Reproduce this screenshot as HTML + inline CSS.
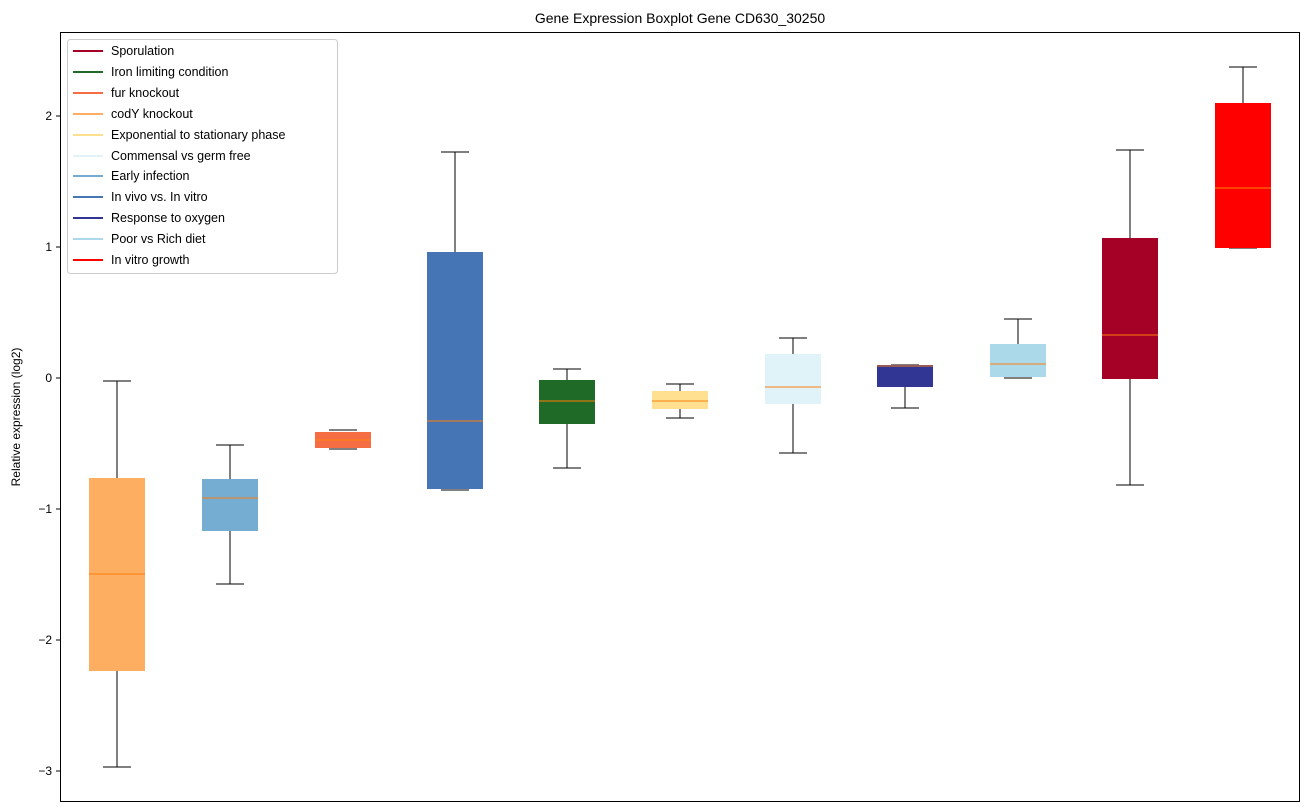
<!DOCTYPE html>
<html><head><meta charset="utf-8"><style>body{margin:0;background:#fff}svg{display:block;font-family:"Liberation Sans","DejaVu Sans",sans-serif}</style></head><body>
<svg width="1309" height="812" viewBox="0 0 1309 812">
<text x="680" y="23" font-size="14" text-anchor="middle">Gene Expression Boxplot Gene CD630_30250</text>
<g stroke="#000" stroke-width="1" fill="none">
<line x1="117" y1="381" x2="117" y2="478"/><line x1="117" y1="671" x2="117" y2="767"/><line x1="103" y1="381" x2="131" y2="381"/><line x1="103" y1="767" x2="131" y2="767"/>
<line x1="230" y1="445" x2="230" y2="479"/><line x1="230" y1="531" x2="230" y2="584"/><line x1="216" y1="445" x2="244" y2="445"/><line x1="216" y1="584" x2="244" y2="584"/>
<line x1="329" y1="430" x2="357" y2="430"/><line x1="329" y1="449" x2="357" y2="449"/>
<line x1="455" y1="152" x2="455" y2="252"/><line x1="441" y1="152" x2="469" y2="152"/><line x1="441" y1="490" x2="469" y2="490"/>
<line x1="567" y1="369" x2="567" y2="380"/><line x1="567" y1="424" x2="567" y2="468"/><line x1="553" y1="369" x2="581" y2="369"/><line x1="553" y1="468" x2="581" y2="468"/>
<line x1="680" y1="384" x2="680" y2="391"/><line x1="680" y1="409" x2="680" y2="418"/><line x1="666" y1="384" x2="694" y2="384"/><line x1="666" y1="418" x2="694" y2="418"/>
<line x1="793" y1="338" x2="793" y2="354"/><line x1="793" y1="404" x2="793" y2="453"/><line x1="779" y1="338" x2="807" y2="338"/><line x1="779" y1="453" x2="807" y2="453"/>
<line x1="905" y1="387" x2="905" y2="408"/><line x1="891" y1="365" x2="919" y2="365"/><line x1="891" y1="408" x2="919" y2="408"/>
<line x1="1018" y1="319" x2="1018" y2="344"/><line x1="1004" y1="319" x2="1032" y2="319"/><line x1="1004" y1="378" x2="1032" y2="378"/>
<line x1="1130" y1="150" x2="1130" y2="238"/><line x1="1130" y1="379" x2="1130" y2="485"/><line x1="1116" y1="150" x2="1144" y2="150"/><line x1="1116" y1="485" x2="1144" y2="485"/>
<line x1="1243" y1="67" x2="1243" y2="103"/><line x1="1229" y1="67" x2="1257" y2="67"/><line x1="1229" y1="248" x2="1257" y2="248"/>
</g>
<g stroke="none">
<rect x="89" y="478" width="56" height="193" fill="#fdae61"/>
<rect x="202" y="479" width="56" height="52" fill="#74add1"/>
<rect x="315" y="432" width="56" height="16" fill="#f46d43"/>
<rect x="427" y="252" width="56" height="237" fill="#4575b4"/>
<rect x="539" y="380" width="56" height="44" fill="#1f6a27"/>
<rect x="652" y="391" width="56" height="18" fill="#fee090"/>
<rect x="765" y="354" width="56" height="50" fill="#e0f3f8"/>
<rect x="877" y="365" width="56" height="22" fill="#313695"/>
<rect x="990" y="344" width="56" height="33" fill="#abd9e9"/>
<rect x="1102" y="238" width="56" height="141" fill="#a50026"/>
<rect x="1215" y="103" width="56" height="145" fill="#ff0000"/>
</g>
<g stroke="#ff7f0e" stroke-width="1">
<line x1="89" y1="574" x2="145" y2="574"/><line x1="202" y1="498" x2="258" y2="498"/><line x1="315" y1="440" x2="371" y2="440"/><line x1="427" y1="421" x2="483" y2="421"/><line x1="539" y1="401" x2="595" y2="401"/><line x1="652" y1="401" x2="708" y2="401"/><line x1="765" y1="387" x2="821" y2="387"/><line x1="877" y1="366" x2="933" y2="366"/><line x1="990" y1="364" x2="1046" y2="364"/><line x1="1102" y1="335" x2="1158" y2="335"/><line x1="1215" y1="188" x2="1271" y2="188"/>
</g>
<rect x="60.5" y="32.5" width="1239" height="769" fill="none" stroke="#000"/>
<g stroke="#000"><line x1="56" y1="116" x2="60" y2="116"/><line x1="56" y1="247" x2="60" y2="247"/><line x1="56" y1="378" x2="60" y2="378"/><line x1="56" y1="509" x2="60" y2="509"/><line x1="56" y1="640" x2="60" y2="640"/><line x1="56" y1="771" x2="60" y2="771"/></g>
<g font-size="12" text-anchor="end"><text x="52" y="120">2</text><text x="52" y="251">1</text><text x="52" y="382">0</text><text x="52" y="513">−1</text><text x="52" y="644">−2</text><text x="52" y="775">−3</text></g>
<text transform="translate(20,417) rotate(-90)" font-size="12" text-anchor="middle">Relative expression (log2)</text>
<rect x="67.5" y="39.5" width="270" height="234" rx="3" fill="#fff" fill-opacity="0.8" stroke="#ccc"/>
<g font-size="12.5" stroke-width="2">
<line x1="73" y1="51" x2="103" y2="51" stroke="#a50026"/><text x="111" y="55">Sporulation</text>
<line x1="73" y1="72" x2="103" y2="72" stroke="#1f6a27"/><text x="111" y="76">Iron limiting condition</text>
<line x1="73" y1="93" x2="103" y2="93" stroke="#f46d43"/><text x="111" y="97">fur knockout</text>
<line x1="73" y1="114" x2="103" y2="114" stroke="#fdae61"/><text x="111" y="118">codY knockout</text>
<line x1="73" y1="135" x2="103" y2="135" stroke="#fee090"/><text x="111" y="139">Exponential to stationary phase</text>
<line x1="73" y1="156" x2="103" y2="156" stroke="#e0f3f8"/><text x="111" y="160">Commensal vs germ free</text>
<line x1="73" y1="176" x2="103" y2="176" stroke="#74add1"/><text x="111" y="180">Early infection</text>
<line x1="73" y1="197" x2="103" y2="197" stroke="#4575b4"/><text x="111" y="201">In vivo vs. In vitro</text>
<line x1="73" y1="218" x2="103" y2="218" stroke="#313695"/><text x="111" y="222">Response to oxygen</text>
<line x1="73" y1="239" x2="103" y2="239" stroke="#abd9e9"/><text x="111" y="243">Poor vs Rich diet</text>
<line x1="73" y1="260" x2="103" y2="260" stroke="#ff0000"/><text x="111" y="264">In vitro growth</text>
</g>
</svg>
</body></html>
